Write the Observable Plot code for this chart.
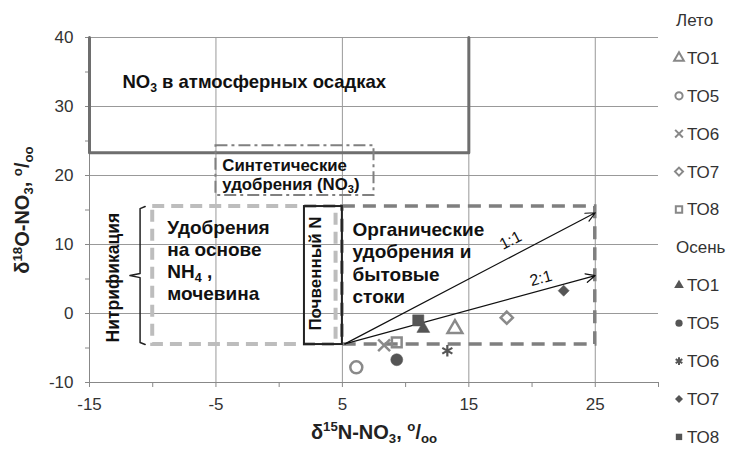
<!DOCTYPE html>
<html><head><meta charset="utf-8">
<script src="https://cdn.jsdelivr.net/npm/d3@7"></script>
<script src="https://cdn.jsdelivr.net/npm/@observablehq/plot@0.6"></script>
<style>body{margin:0;background:#fff;} #chart{position:relative;width:734px;height:450px;}</style>
</head><body><div id="chart"></div>
<script>
// ---- data ----
const sites = ["ТО1","ТО5","ТО6","ТО7","ТО8"];
const summerX = [13.9, 6.1, 8.3, 18.0, 9.3];
const summerY = [-2.2, -7.8, -4.6, -0.6, -4.2];
const autumnX = [11.4, 9.3, 13.3, 22.5, 11.0];
const autumnY = [-2.2, -6.7, -5.4, 3.3, -1.0];
const summerSymbols = ["triangle","circle","times","diamond2","square"];
const autumnSymbols = ["triangle","circle","asterisk","diamond2","square"];
const seasons = ["Лето","Осень"];

const xTickValues = [-15,-10,-5,0,5,10,15,20,25,30];
const xTickLabels = [-15,-5,5,15,25];
const yTickValues = [-10,-5,0,5,10,15,20,25,30,35,40];
const yTickLabels = [-10,0,10,20,30,40];
const xGrid = [-5,5,15,25];
const yGrid = [0,10,20,30,40];

// source regions (data units)
const atmoX = [-15,-15,15,15];
const atmoY = [40,23.3,23.3,40];
const synthBox = [{x1:-5, x2:7.5, y1:17.1, y2:24.3}];
const nh4Box = [{x1:-10, x2:4.5, y1:-4.5, y2:15.5}];
const organicBox = [{x1:5, x2:25, y1:-4.5, y2:15.5}];
const soilBox = [{x1:2, x2:5, y1:-4.5, y2:15.5}];
const arrows = [{x1:5.2, y1:-4.4, x2:25, y2:14.6}, {x1:5.2, y1:-4.4, x2:25, y2:5.5}];
const braceX = [-10.6,-11,-11,-11.8,-11,-11,-10.6];
const braceY = [15.5,15.2,5.8,5.5,5.2,-4.2,-4.5];

const xLabel = "δ^15^N-NO~3~, ^o^/~oo~";
const yLabel = "δ^18^O-NO~3~, ^o^/~oo~";

const font = "'Liberation Sans', Arial, sans-serif";
// marker sizes by symbol
const summerR = {triangle: 5.5, circle: 6, times: 5.5, diamond2: 5.5, square: 5.5};
const autumnR = {triangle: 4.8, circle: 6, asterisk: 5.5, diamond2: 5, square: 6.3};

const summerMarks = summerSymbols.map(sym => Plot.dot(sites, {
  filter: (d,i) => summerSymbols[i] === sym,
  x: (d,i)=>summerX[i], y: (d,i)=>summerY[i], symbol: sym, r: summerR[sym],
  fill: "none", stroke: "#8a8a8a", strokeWidth: 2.5}));
const autumnMarks = autumnSymbols.map(sym => Plot.dot(sites, {
  filter: (d,i) => autumnSymbols[i] === sym,
  x: (d,i)=>autumnX[i], y: (d,i)=>autumnY[i], symbol: sym, r: autumnR[sym],
  fill: sym === "asterisk" ? "none" : "#555", stroke: "#555", strokeWidth: sym === "asterisk" ? 2.2 : 0.5}));

const plot = Plot.plot({
  width: 734, height: 450,
  marginLeft: 89, marginRight: 76, marginTop: 37, marginBottom: 68,
  style: {fontFamily: font, background: "white", color: "#333", overflow: "visible"},
  x: {domain: [-15, 30]},
  y: {domain: [-10, 40]},
  marks: [
    Plot.ruleY(yGrid, {stroke: "#999", strokeWidth: 1}),
    Plot.ruleX(xGrid, {stroke: "#999", strokeWidth: 1}),
    Plot.ruleY([-10], {stroke: "#888"}),
    Plot.ruleX([-15], {stroke: "#888"}),
    Plot.axisX({ticks: xTickValues, tickFormat: d => xTickLabels.includes(d) ? String(d) : "", tickSize: 5, tickPadding: 10, fontSize: 17, stroke: "#888", fill: "#333", label: null}),
    Plot.axisY({ticks: yTickValues, tickFormat: d => yTickLabels.includes(d) ? String(d) : "", tickSize: 4, tickPadding: 12, fontSize: 17, stroke: "#888", fill: "#333", label: null}),
    // regions
    Plot.line(atmoX.map((x,i)=>[x, atmoY[i]]), {stroke: "#6e6e6e", strokeWidth: 3}),
    Plot.rect(synthBox, {x1:"x1", x2:"x2", y1:"y1", y2:"y2", fill: "none", stroke: "#808080", strokeWidth: 2, strokeDasharray: "12,4,3,4"}),
    Plot.rect(nh4Box, {x1:"x1", x2:"x2", y1:"y1", y2:"y2", fill: "none", stroke: "#bdbdbd", strokeWidth: 4, strokeDasharray: "12,7"}),
    Plot.rect(organicBox, {x1:"x1", x2:"x2", y1:"y1", y2:"y2", fill: "none", stroke: "#7f7f7f", strokeWidth: 3.5, strokeDasharray: "13,8"}),
    Plot.rect(soilBox, {x1:"x1", x2:"x2", y1:"y1", y2:"y2", fill: "none", stroke: "#222", strokeWidth: 2}),
    Plot.line(braceX.map((x,i)=>[x, braceY[i]]), {stroke: "#222", strokeWidth: 1.5}),
    Plot.arrow(arrows, {x1:"x1", y1:"y1", x2:"x2", y2:"y2", stroke: "#111", strokeWidth: 1.2, headLength: 13, headAngle: 50}),
    // labels
    Plot.text(["NO~3~ в атмосферных осадках"], {x: -12.4, y: 33.5, text: d=>d, textAnchor: "start", fontSize: 18.5, fontWeight: "bold", fill: "#111"}),
    Plot.text(["Синтетические\nудобрения (NO~3~)"], {x: -4.5, y: 20.2, text: d=>d, textAnchor: "start", fontSize: 16.8, fontWeight: "bold", lineHeight: 1.13, fill: "#111"}),
    Plot.text(["Удобрения\nна основе\nNH~4~ ,\nмочевина"], {x: -8.85, y: 7.8, text: d=>d, textAnchor: "start", fontSize: 19, fontWeight: "bold", lineHeight: 1.16, fill: "#111"}),
    Plot.text(["Органические\nудобрения и\nбытовые\nстоки"], {x: 5.8, y: 7.4, text: d=>d, textAnchor: "start", fontSize: 19, fontWeight: "bold", lineHeight: 1.16, fill: "#111"}),
    Plot.text(["Почвенный N"], {x: 2.88, y: 5.8, text: d=>d, rotate: -90, fontSize: 17, fontWeight: "bold", fill: "#111"}),
    Plot.text(["Нитрификация"], {x: -13.1, y: 5.2, text: d=>d, rotate: -90, fontSize: 17.5, fontWeight: "bold", fill: "#111"}),
    Plot.text(["1:1"], {x: 18.3, y: 10.6, text: d=>d, rotate: -27.5, fontSize: 16, fill: "#111"}),
    Plot.text(["2:1"], {x: 20.7, y: 5.1, text: d=>d, rotate: -15.3, fontSize: 16, fill: "#111"}),
    // axis titles
    Plot.text([xLabel], {frameAnchor: "bottom", dy: 56, text: d=>d, textAnchor: "middle", fontSize: 20, fontWeight: "bold", fill: "#222"}),
    Plot.text([yLabel], {frameAnchor: "left", dx: -67, rotate: -90, text: d=>d, textAnchor: "middle", fontSize: 20, fontWeight: "bold", fill: "#222"}),
    // data
    ...summerMarks,
    ...autumnMarks
  ]
});
document.getElementById("chart").appendChild(plot);

// rich text: ^sup^ and ~sub~
function richify(el) {
  const s = el.textContent;
  if (!/[\^~]/.test(s)) return;
  const fs = parseFloat(getComputedStyle(el).fontSize) || 15;
  const parts = s.split(/(\^[^\^]+\^|~[^~]+~)/).filter(p => p.length);
  el.textContent = "";
  let shift = 0;
  for (const p of parts) {
    const t = document.createElementNS("http://www.w3.org/2000/svg", "tspan");
    let target = 0, txt = p, small = false;
    if (p[0] === "^") { target = -0.36 * fs; txt = p.slice(1, -1); small = true; }
    else if (p[0] === "~") { target = 0.22 * fs; txt = p.slice(1, -1); small = true; }
    const dy = target - shift;
    if (dy !== 0) t.setAttribute("dy", dy);
    shift = target;
    if (small) t.setAttribute("font-size", (0.66 * fs) + "px");
    t.textContent = txt;
    el.appendChild(t);
  }
}
const leaves = Array.from(plot.querySelectorAll("text, tspan")).filter(e => e.children.length === 0);
leaves.forEach(richify);

// legend
const svg = d3.select(plot);
const lg = svg.append("g").attr("font-family", font).attr("font-size", 17).attr("fill", "#333").attr("text-anchor", "start");
const symMap = {triangle: d3.symbolTriangle, circle: d3.symbolCircle, times: d3.symbolTimes, asterisk: d3.symbolAsterisk, diamond2: d3.symbolDiamond2, square: d3.symbolSquare};
const step = 37.9;
let row = 0;
seasons.forEach((season, si) => {
  lg.append("text").attr("x", 676).attr("y", 20 + row * step).attr("dy", "0.35em").text(season);
  row++;
  const syms = si === 0 ? summerSymbols : autumnSymbols;
  sites.forEach((site, i) => {
    const y = 20 + row * step;
    const s = syms[i];
    const stroked = si === 0 || s === "asterisk";
    lg.append("path")
      .attr("transform", `translate(679,${y})`)
      .attr("d", d3.symbol(symMap[s], Math.PI * 3.6 * 3.6)())
      .attr("fill", stroked ? "none" : "#555")
      .attr("stroke", si === 0 ? "#888" : "#555")
      .attr("stroke-width", stroked ? 2 : 0);
    lg.append("text").attr("x", 687).attr("y", y).attr("dy", "0.35em").text(site);
    row++;
  });
});
</script>
</body></html>
